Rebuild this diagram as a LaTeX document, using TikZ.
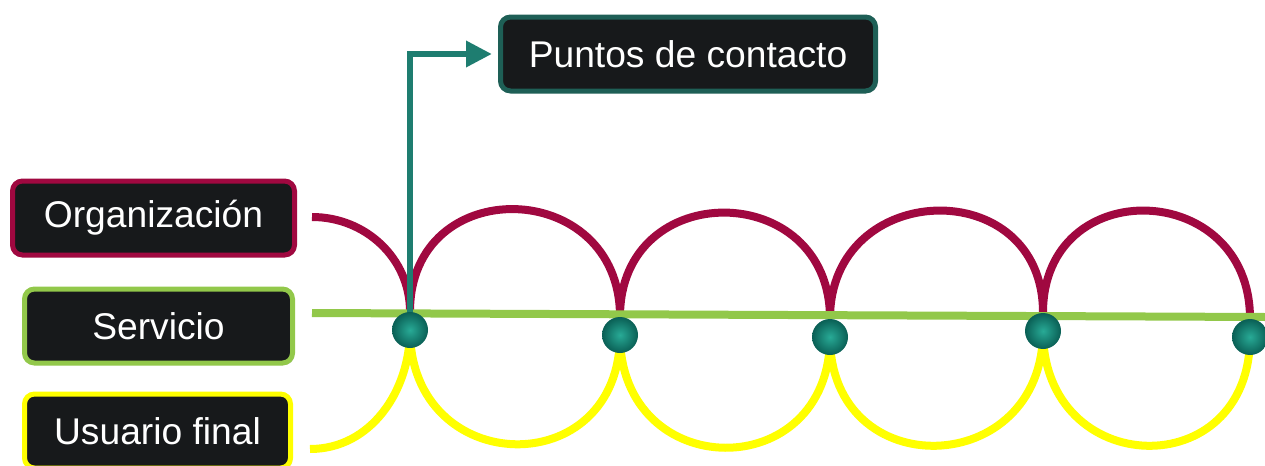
\documentclass[tikz,border=0pt]{standalone}
\usepackage{fontspec}
\setmainfont{Liberation Sans}
\usetikzlibrary{arrows.meta,shadows}

\definecolor{orgred}{RGB}{160,8,64}
\definecolor{servgreen}{RGB}{146,200,74}
\definecolor{useryellow}{RGB}{255,255,0}
\definecolor{contactteal}{RGB}{30,125,112}
\definecolor{contactdark}{RGB}{30,95,86}
\definecolor{dotlight}{RGB}{40,170,150}
\definecolor{dotdark}{RGB}{10,95,85}
\definecolor{boxfill}{RGB}{23,25,27}

\pgfdeclarelayer{background}
\pgfsetlayers{background,main}

\tikzset{
  labelbox/.style={draw, line width=2.5pt, fill=boxfill, text=white,
    rounded corners=5pt, minimum height=37pt, inner sep=0pt,
    font=\fontsize{18.6}{22}\selectfont,
    drop shadow={opacity=0.25, shadow xshift=1pt, shadow yshift=-1pt}},
  touchdot/.style={circle, inner color=dotlight, outer color=dotdark,
    inner sep=0pt, minimum size=18pt},
  orgline/.style={draw=orgred, line width=4pt},
  userline/.style={draw=useryellow, line width=4pt},
  servline/.style={draw=servgreen, line width=4pt},
  contactarrow/.style={draw=contactteal, line width=3.2pt,
    -{Triangle[length=13pt,width=12.5pt]}, shorten >=3pt}
}

\begin{document}
\begin{tikzpicture}[x=0.5pt,y=0.5pt]
\clip (0,0) rectangle (1265,-466);

% boxes
\node[labelbox, draw=orgred, minimum width=141pt] (org) at (153.5,-218) {Organización};
\node[labelbox, draw=servgreen, minimum width=134pt] (serv) at (158.5,-326) {Servicio};
\node[labelbox, draw=useryellow, minimum width=133pt] (user) at (157.5,-431) {Usuario final};
\node[labelbox, draw=contactdark, minimum width=187.5pt] (puntos) at (688,-54) {Puntos de contacto};

% touch points
\node[touchdot] (d1) at (410,-330) {};
\node[touchdot] (d2) at (620,-335) {};
\node[touchdot] (d3) at (830,-337) {};
\node[touchdot] (d4) at (1043,-331) {};
\node[touchdot] (d5) at (1250,-337) {};

\coordinate (orgend) at (312,-217);
\coordinate (userend) at (310,-449);
\coordinate (servstart) at (312,-313);
\coordinate (servend) at (1265,-317);

% lines behind the dots
\begin{pgfonlayer}{background}
\draw[orgline] (orgend) to[out=0,in=90] (d1.north);
\draw[userline] (userend) to[out=0,in=-90] (d1.center);
\foreach \a/\b in {d1/d2,d2/d3,d3/d4,d4/d5}{
  \draw[orgline] (\a.north) .. controls +(0,140) and +(0,140) .. (\b.north);
  \draw[userline] (\a.center) .. controls +(0,-149) and +(0,-149) .. (\b.center);
}
\draw[servline] (servstart) -- (servend);
\draw[contactarrow] (d1.center) |- (puntos.west);
\end{pgfonlayer}
\end{tikzpicture}
\end{document}
